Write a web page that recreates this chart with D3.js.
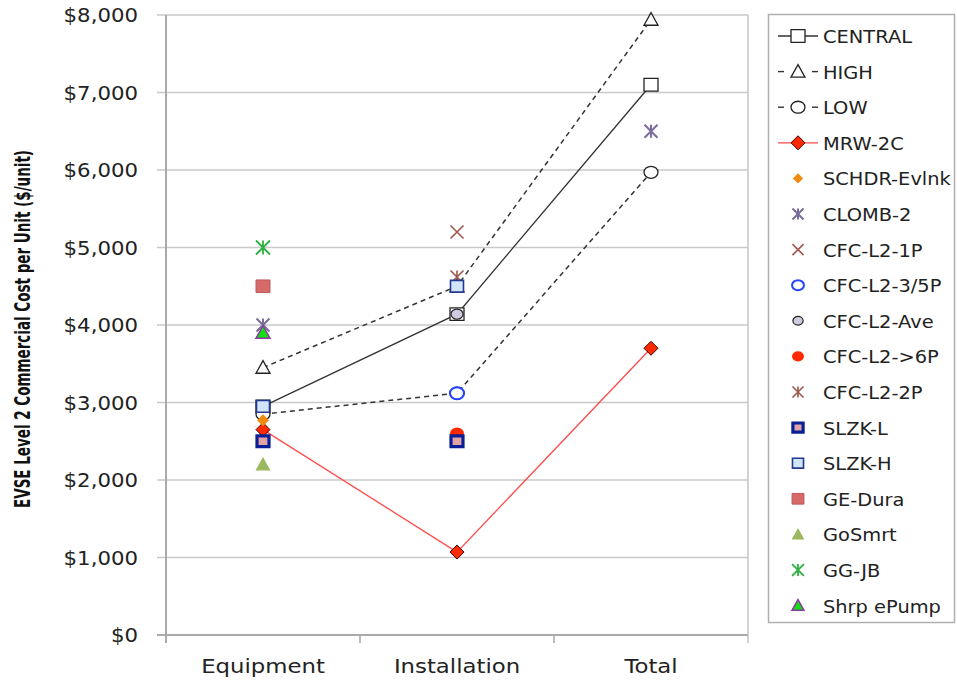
<!DOCTYPE html>
<html><head><meta charset="utf-8">
<script src="https://cdn.jsdelivr.net/npm/d3@7"></script>
<style>body{margin:0;background:#fff}svg{display:block}</style>
</head><body>
<svg id="c" width="957" height="680"></svg>
<script>
const categories = ["Equipment","Installation","Total"];
const yTicks = [0,1000,2000,3000,4000,5000,6000,7000,8000];
const seriesNames = ["CENTRAL","HIGH","LOW","MRW-2C","SCHDR-Evlnk","CLOMB-2","CFC-L2-1P","CFC-L2-3/5P","CFC-L2-Ave","CFC-L2->6P","CFC-L2-2P","SLZK-L","SLZK-H","GE-Dura","GoSmrt","GG-JB","Shrp ePump"];
const CENTRAL = [2950, 4140, 7100];
const HIGH = [3450, 4500, 7940];
const LOW = [2850, 3120, 5970];
const MRW_2C = [2650, 1070, 3700];
const SCHDR_Evlnk = [2770, null, null];
const CLOMB_2 = [4000, null, 6500];
const CFC_L2_1P = [null, 5200, null];
const CFC_L2_35P = [null, 3120, null];
const CFC_L2_Ave = [null, 4140, null];
const CFC_L2_6P = [null, 2600, null];
const CFC_L2_2P = [null, 4620, null];
const SLZK_L = [2500, 2500, null];
const SLZK_H = [2950, 4500, null];
const GE_Dura = [4500, null, null];
const GoSmrt = [2200, null, null];
const GG_JB = [5000, null, null];
const Shrp_ePump = [3900, null, null];
const seriesValues = [CENTRAL,HIGH,LOW,MRW_2C,SCHDR_Evlnk,CLOMB_2,CFC_L2_1P,CFC_L2_35P,CFC_L2_Ave,CFC_L2_6P,CFC_L2_2P,SLZK_L,SLZK_H,GE_Dura,GoSmrt,GG_JB,Shrp_ePump];

const styles = [
  {line:"solid", lc:"#333", shape:"square", fill:"#fff", stroke:"#222", sw:1.3, s:14},
  {line:"dash", lc:"#333", shape:"triangle", fill:"#fff", stroke:"#222", sw:1.3, s:14},
  {line:"dash", lc:"#333", shape:"circle", fill:"#fff", stroke:"#222", sw:1.3, s:14},
  {line:"solid", lc:"#ff4a4a", shape:"diamond", fill:"#ff2a00", stroke:"#3a0000", sw:1, s:14},
  {line:null, shape:"diamond", fill:"#f08a10", stroke:"none", sw:0, s:12},
  {line:null, shape:"star", fill:"none", stroke:"#7a6c9c", sw:2, s:13},
  {line:null, shape:"x", fill:"none", stroke:"#a0584e", sw:1.6, s:13},
  {line:null, shape:"circle", fill:"#fff", stroke:"#2244ff", sw:2, s:14},
  {line:null, shape:"circle", fill:"#d0cbe0", stroke:"#222", sw:1.2, s:12},
  {line:null, shape:"circle", fill:"#ff2a00", stroke:"none", sw:0, s:14},
  {line:null, shape:"star", fill:"none", stroke:"#a0584e", sw:1.6, s:13},
  {line:null, shape:"square", fill:"#e0a4a4", stroke:"#0a1e96", sw:3.2, s:12},
  {line:null, shape:"square", fill:"#d2e4f8", stroke:"#23398f", sw:1.6, s:13},
  {line:null, shape:"square", fill:"#d46a6a", stroke:"#c25a5a", sw:1, s:14},
  {line:null, shape:"triangle", fill:"#9cb85e", stroke:"none", sw:0, s:15},
  {line:null, shape:"star", fill:"none", stroke:"#2eb040", sw:1.8, s:14},
  {line:null, shape:"triangle", fill:"#12e012", stroke:"#8a3aa0", sw:1.5, s:14}
];

function shapePath(shape, s){
  const h = s/2;
  switch(shape){
    case "square": return `M${-h},${-h*0.9}H${h}V${h*0.9}H${-h}Z`;
    case "triangle": return `M0,${-h}L${h},${h*0.8}H${-h}Z`;
    case "circle": return `M${h},0A${h},${h*0.85} 0 1,1 ${-h},0A${h},${h*0.85} 0 1,1 ${h},0Z`;
    case "diamond": return `M0,${-h}L${h},0L0,${h}L${-h},0Z`;
    case "x": return `M${-h},${-h}L${h},${h}M${-h},${h}L${h},${-h}`;
    case "star": return `M${-h},${-h}L${h},${h}M${-h},${h}L${h},${-h}M0,${-h}V${h}`;
  }
}

const svg = d3.select("#c");
const x = d3.scaleBand().domain(categories).range([166, 748]);
const y = d3.scaleLinear().domain([0, 8000]).range([635, 15]);
const cx = c => x(c) + x.bandwidth()/2;

svg.append("g").selectAll("line").data(yTicks.filter(t=>t>0)).join("line")
  .attr("x1", 157).attr("x2", 748).attr("y1", d=>y(d)).attr("y2", d=>y(d))
  .attr("stroke", "#c9c9c9").attr("stroke-width", 1.6);
svg.append("line").attr("x1",748).attr("x2",748).attr("y1",y(8000)).attr("y2",y(0)+8).attr("stroke","#c9c9c9").attr("stroke-width",1.6);
svg.append("line").attr("x1",166).attr("x2",166).attr("y1",y(8000)).attr("y2",y(0)+8).attr("stroke","#aaa").attr("stroke-width",2);
svg.append("line").attr("x1",157).attr("x2",748).attr("y1",y(0)).attr("y2",y(0)).attr("stroke","#aaa").attr("stroke-width",2);
svg.append("g").selectAll("line").data(categories.slice(1)).join("line")
  .attr("x1", d=>x(d)).attr("x2", d=>x(d)).attr("y1", y(0)).attr("y2", y(0)+8)
  .attr("stroke","#aaa").attr("stroke-width",1.6);

const fmt = d3.format("$,");
svg.append("g").selectAll("text").data(yTicks).join("text")
  .attr("transform", d=>`translate(138,${y(d)+7}) scale(1.12,1)`)
  .attr("text-anchor","end")
  .attr("font-family","DejaVu Sans, Verdana, sans-serif").attr("font-size",19).attr("fill","#222")
  .text(d=>fmt(d));

svg.append("g").selectAll("text").data(categories).join("text")
  .attr("transform", d=>`translate(${cx(d)},673) scale(1.14,1)`)
  .attr("text-anchor","middle")
  .attr("font-family","DejaVu Sans, sans-serif").attr("font-size",20).attr("fill","#222")
  .text(d=>d);

svg.append("text")
  .attr("transform","translate(30,329) rotate(-90)")
  .attr("text-anchor","middle")
  .attr("font-family","Liberation Sans Narrow, DejaVu Sans Condensed, sans-serif")
  .attr("font-weight","bold").attr("font-size",21).attr("fill","#111")
  .attr("textLength",358).attr("lengthAdjust","spacingAndGlyphs")
  .text("EVSE Level 2 Commercial Cost per Unit ($/unit)");

const lineGen = d3.line().defined(d=>d.v!=null).x(d=>cx(d.c)).y(d=>y(d.v));
seriesValues.forEach((vals,i)=>{
  const st = styles[i];
  if(!st.line) return;
  const pts = vals.map((v,j)=>({c:categories[j], v}));
  svg.append("path").attr("d", lineGen(pts)).attr("fill","none")
    .attr("stroke", st.lc).attr("stroke-width", st.line==="dash"?1.5:1.3)
    .attr("stroke-dasharray", st.line==="dash"?"5,4":null);
});

seriesValues.forEach((vals,i)=>{
  const st = styles[i];
  const pts = vals.map((v,j)=>({c:categories[j], v})).filter(d=>d.v!=null);
  svg.append("g").selectAll("path").data(pts).join("path")
    .attr("transform", d=>`translate(${cx(d.c)},${y(d.v)})`)
    .attr("d", shapePath(st.shape, st.s))
    .attr("fill", st.fill).attr("stroke", st.stroke).attr("stroke-width", st.sw);
});

const lg = svg.append("g");
lg.append("rect").attr("x",768.5).attr("y",14.5).attr("width",186).attr("height",608)
  .attr("fill","#fff").attr("stroke","#b0b0b0").attr("stroke-width",1.5);
const rowY = i => 36 + i*35.6;
seriesNames.forEach((name,i)=>{
  const st = styles[i];
  const yy = rowY(i);
  if(st.line==="solid"){
    lg.append("line").attr("x1",778).attr("x2",818).attr("y1",yy).attr("y2",yy)
      .attr("stroke",st.lc).attr("stroke-width",1.3);
  } else if(st.line==="dash"){
    [[778,784],[812,818]].forEach(([a,b])=>lg.append("line").attr("x1",a).attr("x2",b).attr("y1",yy).attr("y2",yy)
      .attr("stroke",st.lc).attr("stroke-width",1.4));
  }
  lg.append("path").attr("transform",`translate(798,${yy})`)
    .attr("d", shapePath(st.shape, st.line? st.s : st.s*0.85))
    .attr("fill", st.fill).attr("stroke", st.stroke).attr("stroke-width", st.sw);
  lg.append("text").attr("transform",`translate(823,${yy+7}) scale(1.05,1)`)
    .attr("font-family","DejaVu Sans, Verdana, sans-serif").attr("font-size",18.5).attr("fill","#222")
    .text(name);
});
</script>
</body></html>
